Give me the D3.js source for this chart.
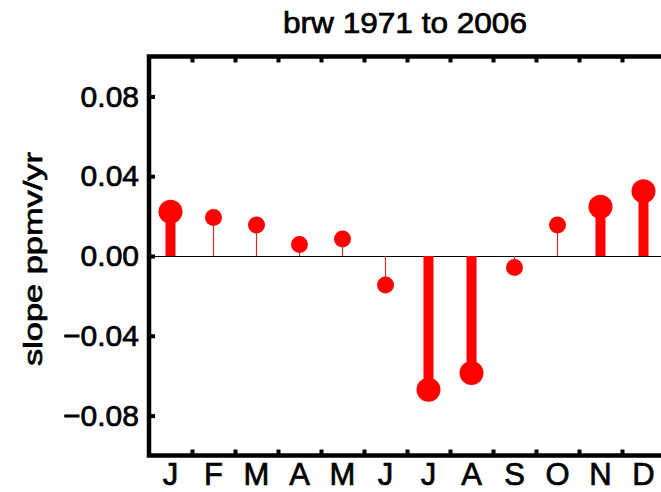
<!DOCTYPE html>
<html>
<head>
<meta charset="utf-8">
<script src="https://cdn.jsdelivr.net/npm/d3@7"></script>
<style>
  html, body { margin: 0; padding: 0; background: #fff; }
  svg { display: block; font-family: "Liberation Sans", Arial, Helvetica, sans-serif; }
  .lbl { fill: #000; stroke: #000; stroke-width: 0.7px; paint-order: stroke; }
</style>
</head>
<body>
<svg id="chart" width="661" height="492"></svg>
<script>
const months = ["J","F","M","A","M","J","J","A","S","O","N","D"];
const slopes = [0.0222, 0.0193, 0.0155, 0.0058, 0.0085, -0.0145, -0.0670, -0.0587, -0.0058, 0.0155, 0.0247, 0.0325];
const significant = [true, false, false, false, false, false, true, true, false, false, true, true];
const yTicks = [-0.08, -0.04, 0.00, 0.04, 0.08];
const titleText = "brw 1971 to 2006";
const yLabel = "slope ppmv/yr";

const svg = d3.select("#chart");
const pLeft = 149, pRight = 665, pTop = 56.5, pBottom = 455.5;

const x = d3.scaleLinear().domain([0, 12]).range([pLeft, pRight]);
const y = d3.scaleLinear().domain([-0.1, 0.1]).range([pBottom, pTop]);
const idx = d3.range(months.length);

// zero line
svg.append("line")
  .attr("x1", pLeft).attr("x2", pRight)
  .attr("y1", y(0) + 0.5).attr("y2", y(0) + 0.5)
  .attr("stroke", "#000").attr("stroke-width", 1)
  .attr("shape-rendering", "crispEdges");

// stems
svg.append("g").selectAll("line").data(idx).join("line")
  .attr("x1", i => x(i + 0.5)).attr("x2", i => x(i + 0.5))
  .attr("y1", y(0)).attr("y2", i => y(slopes[i]))
  .attr("stroke", i => significant[i] ? "#ff0000" : "#c83030")
  .attr("stroke-width", i => significant[i] ? 10 : 1.2);

// markers
svg.append("g").selectAll("circle").data(idx).join("circle")
  .attr("cx", i => x(i + 0.5))
  .attr("cy", i => y(slopes[i]))
  .attr("r", i => significant[i] ? 12 : 8.5)
  .attr("fill", "#ff0000");

// axes (ticks inside)
const tickFmt = d => d3.format(".2f")(d).replace("-", "\u2212");
const yAxis = d3.axisLeft(y).tickValues(yTicks).tickSize(-6).tickPadding(10).tickFormat(tickFmt);
const gy = svg.append("g").attr("transform", `translate(${pLeft},0)`).call(yAxis);
gy.select(".domain").remove();
gy.selectAll(".tick line").attr("stroke", "#000").attr("stroke-width", 4);
gy.selectAll(".tick text").attr("class", "lbl").attr("font-size", 30)
  .attr("font-family", "Liberation Sans, Arial, sans-serif");

const xTop = d3.axisTop(x).tickValues(d3.range(1, 12)).tickSize(-6).tickFormat("");
const gxt = svg.append("g").attr("transform", `translate(0,${pTop})`).call(xTop);
gxt.select(".domain").remove();
gxt.selectAll(".tick line").attr("stroke", "#000").attr("stroke-width", 4);

const xBot = d3.axisBottom(x).tickValues(d3.range(1, 12)).tickSize(-6).tickFormat("");
const gxb = svg.append("g").attr("transform", `translate(0,${pBottom})`).call(xBot);
gxb.select(".domain").remove();
gxb.selectAll(".tick line").attr("stroke", "#000").attr("stroke-width", 4);

// frame
svg.append("path")
  .attr("d", `M${pRight + 10},${pTop} H${pLeft} V${pBottom} H${pRight + 10}`)
  .attr("fill", "none").attr("stroke", "#000").attr("stroke-width", 4.5);

// month labels
svg.append("g").selectAll("text").data(idx).join("text")
  .attr("class", "lbl")
  .attr("x", i => x(i + 0.5)).attr("y", 485)
  .attr("text-anchor", "middle").attr("font-size", 31)
  .text(i => months[i]);

// title
svg.append("text").attr("class", "lbl").attr("x", 405).attr("y", 33)
  .attr("text-anchor", "middle").attr("font-size", 29)
  .attr("textLength", 244).attr("lengthAdjust", "spacingAndGlyphs")
  .text(titleText);

// y label
svg.append("text").attr("class", "lbl")
  .attr("transform", `translate(42,${259}) rotate(-90)`)
  .attr("text-anchor", "middle").attr("font-size", 25)
  .attr("textLength", 214).attr("lengthAdjust", "spacingAndGlyphs")
  .text(yLabel);
</script>
</body>
</html>
